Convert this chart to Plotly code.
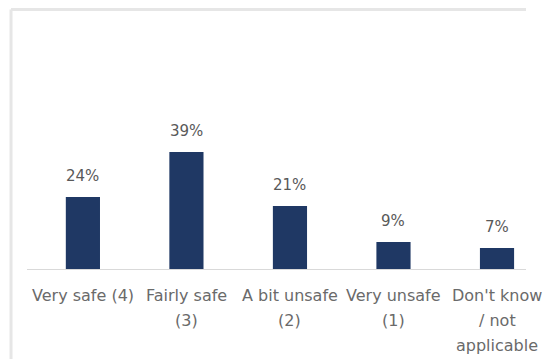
import plotly.graph_objects as go

# Survey responses: how safe respondents feel
categories = ["Very safe (4)", "Fairly safe (3)", "A bit unsafe (2)", "Very unsafe (1)", "Don't know / not applicable"]
tick_lines = [
    ["Very safe (4)"],
    ["Fairly safe", "(3)"],
    ["A bit unsafe", "(2)"],
    ["Very unsafe", "(1)"],
    ["Don't know", "/ not", "applicable"],
]
shares = [24, 39, 21, 9, 7]

BAR_COLOR = "#1f3864"
TEXT_GRAY = "#6a6a6a"
LABEL_GRAY = "#595959"
FONT = "DejaVu Sans"

x_idx = list(range(len(categories)))

fig = go.Figure(
    go.Bar(
        x=x_idx,
        y=shares,
        width=0.33,
        marker=dict(color=BAR_COLOR, line=dict(width=0)),
        hoverinfo="skip",
    )
)

annotations = []
# percentage labels above each bar
for i, v in zip(x_idx, shares):
    annotations.append(dict(
        x=i, y=v, xref="x", yref="y", text=f"{v}%", showarrow=False,
        yanchor="bottom", yshift=10,
        font=dict(family=FONT, size=15, color=LABEL_GRAY),
    ))
# category labels, one line at a time for wide line spacing
for i, lines in zip(x_idx, tick_lines):
    for j, line in enumerate(lines):
        annotations.append(dict(
            x=i, y=0, xref="x", yref="paper", text=line, showarrow=False,
            yanchor="middle", yshift=-(26 + 25 * j),
            font=dict(family=FONT, size=16, color=TEXT_GRAY),
        ))

fig.update_layout(
    width=554, height=359,
    margin=dict(l=27, r=28, t=134, b=90),
    paper_bgcolor="white", plot_bgcolor="white",
    showlegend=False,
    annotations=annotations,
    xaxis=dict(
        range=[-0.54, 4.28], showticklabels=False, ticks="",
        showgrid=False, zeroline=False,
        showline=True, linecolor="#d9d9d9", linewidth=1,
    ),
    yaxis=dict(range=[0, 45], visible=False, showgrid=False, zeroline=False),
    shapes=[
        # light frame along the top and left edges
        dict(type="line", xref="paper", yref="paper", x0=-0.032, x1=1.0, y0=1.922, y1=1.922,
             line=dict(color="#e6e6e6", width=3)),
        dict(type="line", xref="paper", yref="paper", x0=-0.032, x1=-0.032, y0=1.922, y1=-1.0,
             line=dict(color="#e6e6e6", width=3)),
    ],
)

fig.write_html("out.html")
